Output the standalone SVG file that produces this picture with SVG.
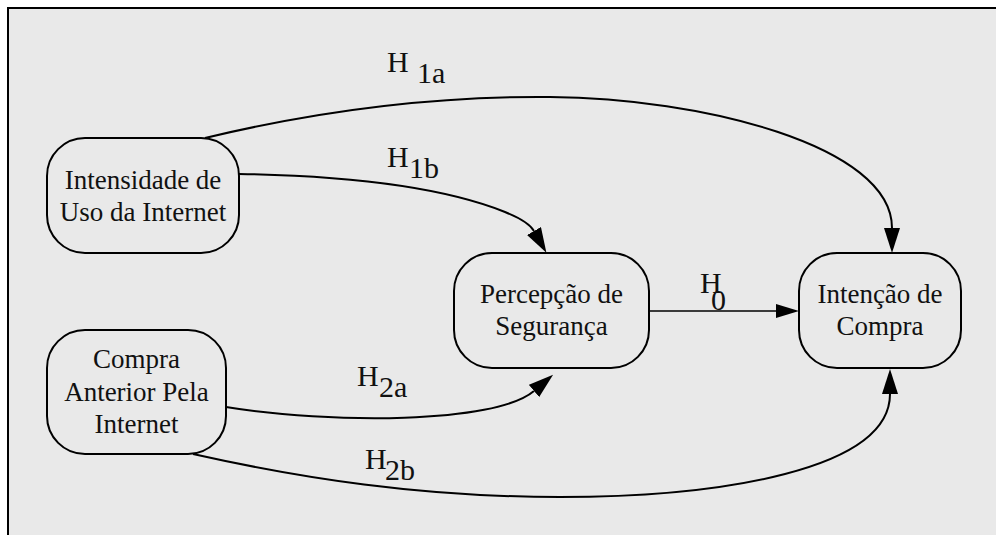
<svg xmlns="http://www.w3.org/2000/svg" width="996" height="535" viewBox="0 0 996 535">
  <defs>
    <marker id="arrow" viewBox="0 -8 25 16" refX="0" refY="0" markerWidth="25" markerHeight="16" markerUnits="userSpaceOnUse" orient="auto">
      <path d="M0,-8 L25,0 L0,8 z" fill="#000"/>
    </marker>
    <marker id="arrowSmall" viewBox="0 -7 23 14" refX="0" refY="0" markerWidth="23" markerHeight="14" markerUnits="userSpaceOnUse" orient="auto">
      <path d="M0,-7 L23,0 L0,7 z" fill="#000"/>
    </marker>
  </defs>
  <style>
    .frame { fill: #e9e9e9; stroke: #000; stroke-width: 2; }
    .box { fill: #e9e9e9; stroke: #000; stroke-width: 2; }
    text { font-family: 'Liberation Serif', 'DejaVu Serif', serif; fill: #111; }
    .node-text { font-size: 27px; text-anchor: middle; }
    .label { font-size: 30px; }
    .edge { fill: none; stroke: #000; stroke-width: 2; marker-end: url(#arrow); }
    .edge-thin { fill: none; stroke: #000; stroke-width: 1.3; marker-end: url(#arrowSmall); }
  </style>

  <rect width="996" height="535" fill="#fff"/>
  <rect class="frame" x="8" y="8" width="1000" height="540"/>

  <g id="connectors">
    <!-- H1a: Intensidade -> Intenção -->
    <path class="edge" d="M205,138 C330,108 440,96 550,97 C700,98 892,145 892,228"/>
    <!-- H1b: Intensidade -> Percepção -->
    <path class="edge" d="M239,174 C360,176 450,190 505,212 C520,218 530,224 534,231"/>
    <!-- H0: Percepção -> Intenção -->
    <path class="edge-thin" d="M649,311 L776,311"/>
    <!-- H2a: Compra anterior -> Percepção -->
    <path class="edge" d="M226,407 C330,424 495,424 534,391"/>
    <!-- H2b: Compra anterior -> Intenção -->
    <path class="edge" d="M193,454 C300,478 420,497 560,497 C720,497 890,470 890,394"/>
  </g>

  <g id="labels">
    <text class="label" x="387" y="72">H</text>
    <text class="label" x="417" y="83">1a</text>
    <text class="label" x="387" y="167">H</text>
    <text class="label" x="409" y="178">1b</text>
    <text class="label" x="700" y="293">H</text>
    <text class="label" x="711" y="310">0</text>
    <text class="label" x="357" y="386">H</text>
    <text class="label" x="379" y="397">2a</text>
    <text class="label" x="365" y="469">H</text>
    <text class="label" x="385" y="480">2b</text>
  </g>

  <g id="node-intensidade">
    <rect class="box" x="47" y="138" width="192" height="115" rx="38" ry="38"/>
    <text class="node-text" x="143" y="189">Intensidade de</text>
    <text class="node-text" x="143" y="221">Uso da Internet</text>
  </g>

  <g id="node-compra-anterior">
    <rect class="box" x="47" y="330" width="179" height="124" rx="38" ry="38"/>
    <text class="node-text" x="136.5" y="368">Compra</text>
    <text class="node-text" x="136.5" y="401">Anterior Pela</text>
    <text class="node-text" x="136.5" y="433">Internet</text>
  </g>

  <g id="node-percepcao">
    <rect class="box" x="454" y="253" width="195" height="115" rx="38" ry="38"/>
    <text class="node-text" x="551.5" y="303">Percepção de</text>
    <text class="node-text" x="551.5" y="335">Segurança</text>
  </g>

  <g id="node-intencao">
    <rect class="box" x="799" y="253" width="162" height="115" rx="38" ry="38"/>
    <text class="node-text" x="880" y="303">Intenção de</text>
    <text class="node-text" x="880" y="335">Compra</text>
  </g>
</svg>
